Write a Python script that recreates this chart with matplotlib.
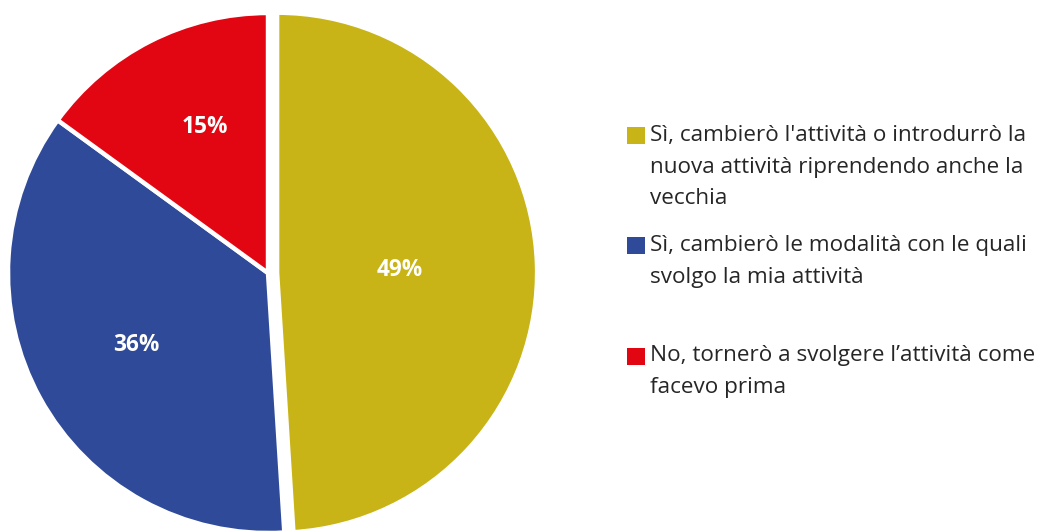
import matplotlib
matplotlib.use("Agg")
import matplotlib.pyplot as plt
from matplotlib.patches import Rectangle

categories = [
    "Sì, cambierò l'attività o introdurrò la\nnuova attività riprendendo anche la\nvecchia",
    "Sì, cambierò le modalità con le quali\nsvolgo la mia attività",
    "No, tornerò a svolgere l’attività come\nfacevo prima",
]
values = [49, 36, 15]
colors = ["#C8B416", "#2F4A98", "#E20613"]
explode_frac = [0.035, 0, 0]

W, H = 1046, 532
fig = plt.figure(figsize=(W / 100, H / 100), dpi=100)
ax = fig.add_axes([0, 0, 1, 1])

cx, cy, r = 268, H - 273, 260
wedges, texts = ax.pie(
    values, colors=colors, startangle=90, counterclock=False,
    explode=[e * r for e in explode_frac], center=(cx, cy), radius=r, frame=True,
    wedgeprops=dict(edgecolor="white", linewidth=3.2),
)
ax.set_xlim(0, W)
ax.set_ylim(0, H)
ax.set_aspect("equal")
ax.axis("off")

label_pos = [(400, 270), (136, 345), (205, 127)]
for v, (x, y) in zip(values, label_pos):
    ax.text(x, H - y, f"{v}%", color="white", fontsize=16.3, fontweight="bold",
            family="Open Sans", ha="center", va="center")

# legend
starts = [135, 245, 356]
line_h = 32
for cat, col, y0 in zip(categories, colors, starts):
    ax.add_patch(Rectangle((627, H - y0 - 8.5), 18, 17, facecolor=col, edgecolor="none"))
    for i, line in enumerate(cat.split("\n")):
        ax.text(650, H - (y0 + i * line_h), line, fontsize=16.2, family="Open Sans",
                color="#262626", ha="left", va="center")

fig.savefig("out.png", dpi=100)
